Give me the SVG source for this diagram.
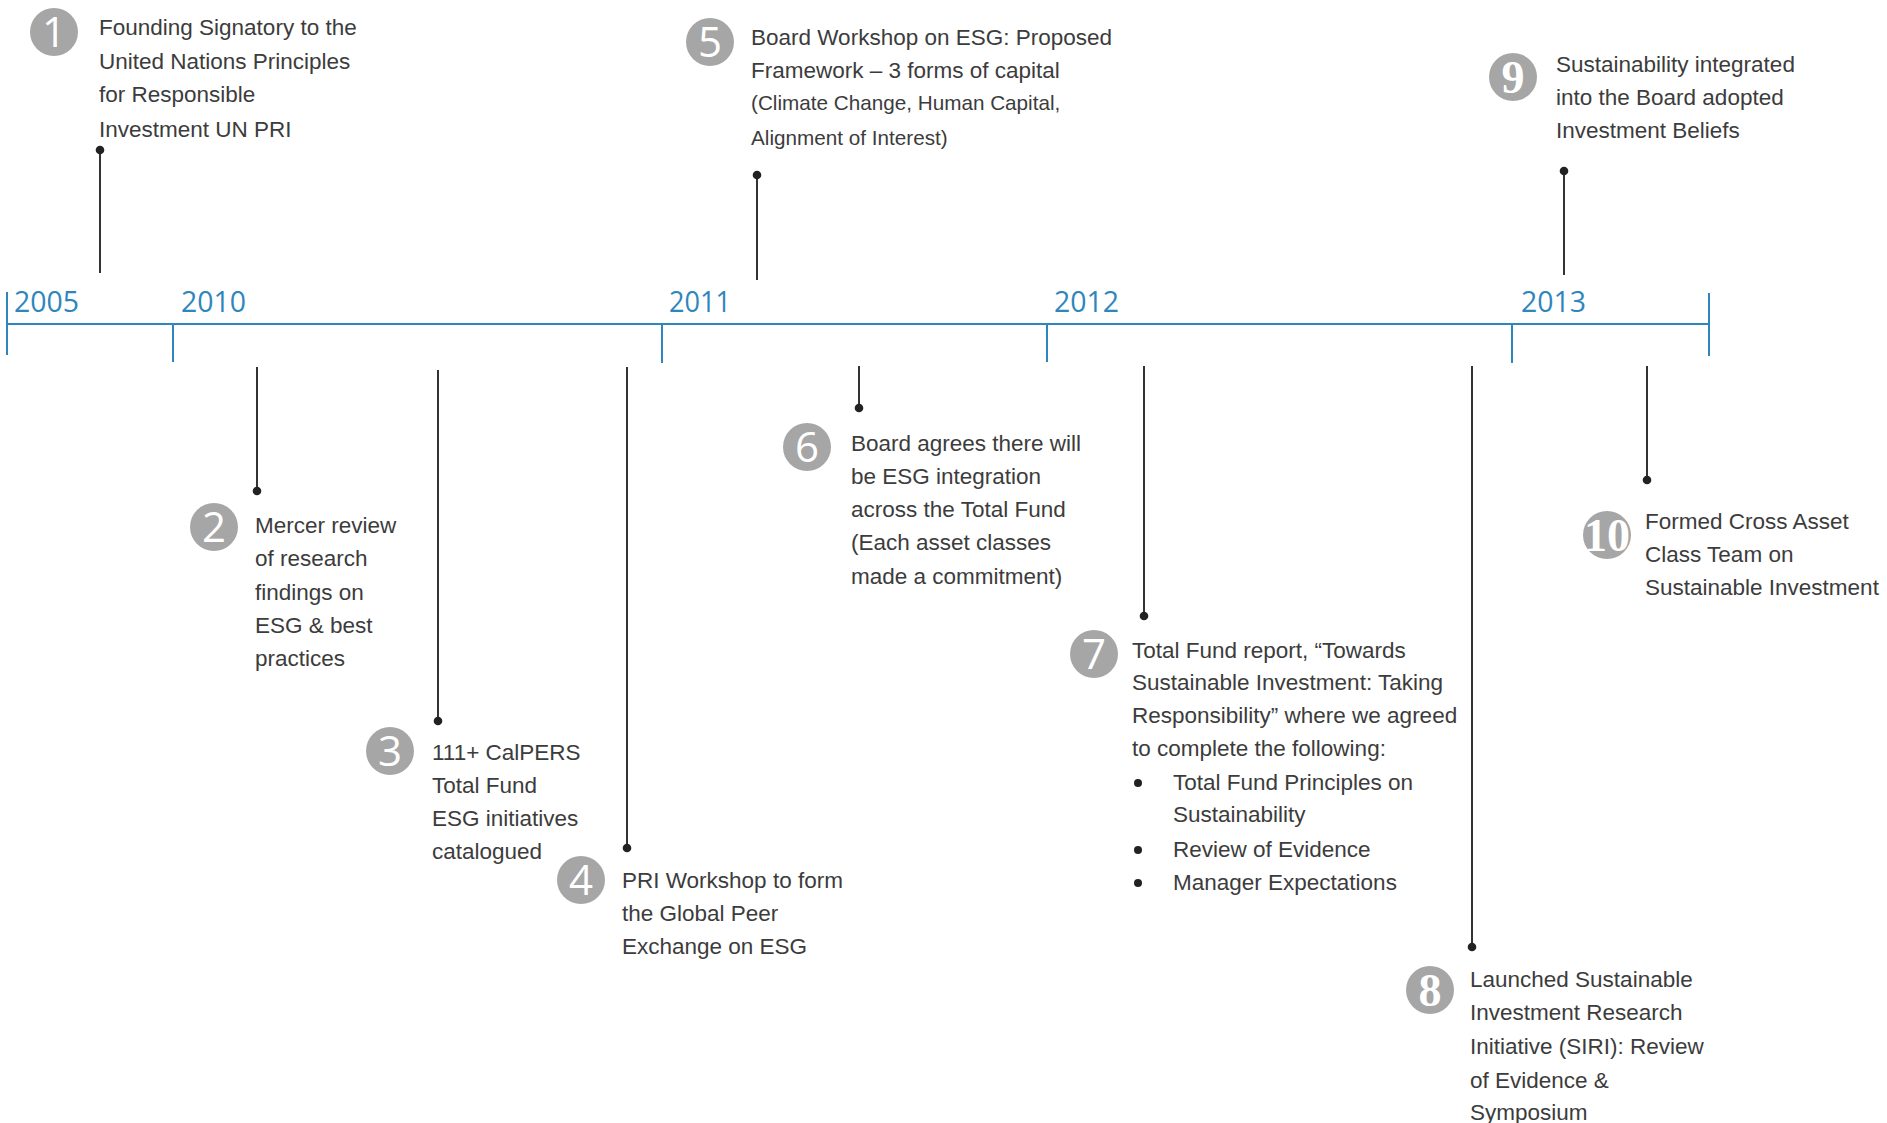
<svg xmlns="http://www.w3.org/2000/svg" width="1887" height="1123" viewBox="0 0 1887 1123">
<style>
.t{font-family:"Liberation Sans",Arial,sans-serif;font-size:22.5px;fill:#3c3c3c}
.ts{font-size:20.7px}
.yr{font-family:"Open Sans","Noto Sans",sans-serif;font-size:30px;fill:#2e86bd}
.badge{fill:#a6a6a6}
.num{font-family:"Open Sans","Noto Sans",sans-serif;font-size:42px;fill:#fff;text-anchor:middle}
.numS{font-family:"Liberation Serif","DejaVu Serif",serif;font-weight:bold;font-size:46px;fill:#fff;text-anchor:middle}
.axis{stroke:#2e86bd;stroke-width:2;fill:none}
.conn{stroke:#333;stroke-width:2;fill:none}
.dot{fill:#222}
</style>
<rect width="1887" height="1123" fill="#fff"/>
<g id="timeline">
<path class="axis" d="M7,324H1709M7,292V355M173,324V362M662,324V363M1047,324V362M1512,324V363M1709,293V356"/>
<text class="yr" x="14" y="312" textLength="65" lengthAdjust="spacingAndGlyphs">2005</text>
<text class="yr" x="181" y="312" textLength="65" lengthAdjust="spacingAndGlyphs">2010</text>
<text class="yr" x="669" y="312" textLength="62" lengthAdjust="spacingAndGlyphs">2011</text>
<text class="yr" x="1054" y="312" textLength="65" lengthAdjust="spacingAndGlyphs">2012</text>
<text class="yr" x="1521" y="312" textLength="65" lengthAdjust="spacingAndGlyphs">2013</text>
</g>
<g id="connectors">
<path class="conn" d="M100,150V273M757,175V280M1564,171V275M257,367V491M438,370V721M627,367V848M859,366V408M1144,366V616M1472,366V947M1647,366V480"/>
<circle class="dot" cx="100" cy="150" r="4.3"/>
<circle class="dot" cx="757" cy="175" r="4.3"/>
<circle class="dot" cx="1564" cy="171" r="4.3"/>
<circle class="dot" cx="257" cy="491" r="4.3"/>
<circle class="dot" cx="438" cy="721" r="4.3"/>
<circle class="dot" cx="627" cy="848" r="4.3"/>
<circle class="dot" cx="859" cy="408" r="4.3"/>
<circle class="dot" cx="1144" cy="616" r="4.3"/>
<circle class="dot" cx="1472" cy="947" r="4.3"/>
<circle class="dot" cx="1647" cy="480" r="4.3"/>
</g>
<g id="node-1">
<circle class="badge" cx="54" cy="32" r="24"/>
<text class="num" x="54" y="47">1</text>
<text class="t" x="99" y="35">Founding Signatory to the</text>
<text class="t" x="99" y="69">United Nations Principles</text>
<text class="t" x="99" y="102">for Responsible</text>
<text class="t" x="99" y="137">Investment UN PRI</text>
</g>
<g id="node-2">
<circle class="badge" cx="214" cy="527" r="24"/>
<text class="num" x="214" y="542">2</text>
<text class="t" x="255" y="533">Mercer review</text>
<text class="t" x="255" y="566">of research</text>
<text class="t" x="255" y="600">findings on</text>
<text class="t" x="255" y="633">ESG &amp; best</text>
<text class="t" x="255" y="666">practices</text>
</g>
<g id="node-3">
<circle class="badge" cx="390" cy="751" r="24"/>
<text class="num" x="390" y="766">3</text>
<text class="t" x="432" y="760">111+ CalPERS</text>
<text class="t" x="432" y="793">Total Fund</text>
<text class="t" x="432" y="826">ESG initiatives</text>
<text class="t" x="432" y="859">catalogued</text>
</g>
<g id="node-4">
<circle class="badge" cx="581" cy="880" r="24"/>
<text class="num" x="581" y="895">4</text>
<text class="t" x="622" y="888">PRI Workshop to form</text>
<text class="t" x="622" y="921">the Global Peer</text>
<text class="t" x="622" y="954">Exchange on ESG</text>
</g>
<g id="node-5">
<circle class="badge" cx="710" cy="42" r="24"/>
<text class="num" x="710" y="57">5</text>
<text class="t" x="751" y="45">Board Workshop on ESG: Proposed</text>
<text class="t" x="751" y="78">Framework – 3 forms of capital</text>
<text class="t ts" x="751" y="110">(Climate Change, Human Capital,</text>
<text class="t ts" x="751" y="145">Alignment of Interest)</text>
</g>
<g id="node-6">
<circle class="badge" cx="807" cy="447" r="24"/>
<text class="num" x="807" y="462">6</text>
<text class="t" x="851" y="451">Board agrees there will</text>
<text class="t" x="851" y="484">be ESG integration</text>
<text class="t" x="851" y="517">across the Total Fund</text>
<text class="t" x="851" y="550">(Each asset classes</text>
<text class="t" x="851" y="584">made a commitment)</text>
</g>
<g id="node-7">
<circle class="badge" cx="1094" cy="654" r="24"/>
<text class="num" x="1094" y="669">7</text>
<text class="t" x="1132" y="658">Total Fund report, “Towards</text>
<text class="t" x="1132" y="690">Sustainable Investment: Taking</text>
<text class="t" x="1132" y="723">Responsibility” where we agreed</text>
<text class="t" x="1132" y="756">to complete the following:</text>
<circle class="dot" cx="1138" cy="783" r="4"/>
<circle class="dot" cx="1138" cy="850" r="4"/>
<circle class="dot" cx="1138" cy="883" r="4"/>
<text class="t" x="1173" y="790">Total Fund Principles on</text>
<text class="t" x="1173" y="822">Sustainability</text>
<text class="t" x="1173" y="857">Review of Evidence</text>
<text class="t" x="1173" y="890">Manager Expectations</text>
</g>
<g id="node-8">
<circle class="badge" cx="1430" cy="990" r="24"/>
<text class="numS" x="1430" y="1006">8</text>
<text class="t" x="1470" y="987">Launched Sustainable</text>
<text class="t" x="1470" y="1020">Investment Research</text>
<text class="t" x="1470" y="1054">Initiative (SIRI): Review</text>
<text class="t" x="1470" y="1088">of Evidence &amp;</text>
<text class="t" x="1470" y="1120">Symposium</text>
</g>
<g id="node-9">
<circle class="badge" cx="1513" cy="77" r="24"/>
<text class="numS" x="1513" y="93">9</text>
<text class="t" x="1556" y="72">Sustainability integrated</text>
<text class="t" x="1556" y="105">into the Board adopted</text>
<text class="t" x="1556" y="138">Investment Beliefs</text>
</g>
<g id="node-10">
<circle class="badge" cx="1607" cy="535" r="24"/>
<text class="numS" x="1607" y="551" font-size="42">10</text>
<text class="t" x="1645" y="529">Formed Cross Asset</text>
<text class="t" x="1645" y="562">Class Team on</text>
<text class="t" x="1645" y="595">Sustainable Investment</text>
</g>
</svg>
